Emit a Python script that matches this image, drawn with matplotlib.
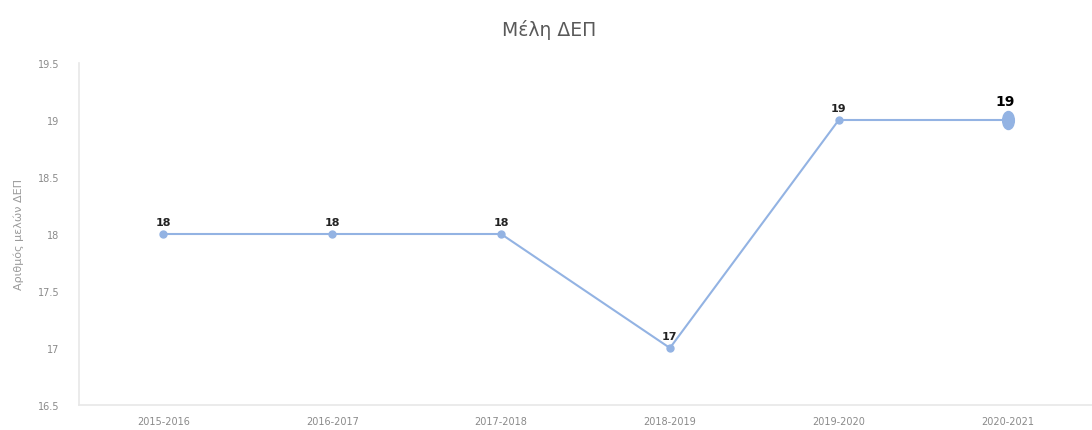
import matplotlib
matplotlib.use("Agg")
import matplotlib.pyplot as plt
from matplotlib.markers import MarkerStyle
from matplotlib.transforms import Affine2D

categories = ["2015-2016", "2016-2017", "2017-2018", "2018-2019", "2019-2020", "2020-2021"]
values = [18, 18, 18, 17, 19, 19]
labels = ["18", "18", "18", "17", "19", "19"]
yticks = [16.5, 17, 17.5, 18, 18.5, 19, 19.5]

plt.rcParams['font.family'] = ['DejaVu Sans']
fig = plt.figure(figsize=(10.92, 4.31), dpi=100)
ax = fig.add_axes([79/1092, 1 - 406/431, (1092 - 79)/1092, (406 - 64)/431])

x = list(range(len(categories)))
color = "#93b3e3"
ax.plot(x, values, color=color, lw=1.5, marker="o", markersize=5, zorder=3)
ell = MarkerStyle("o", transform=Affine2D().scale(0.65, 1.0))
ax.plot([x[-1]], [values[-1]], marker=ell, markersize=13, color=color, zorder=4,
        linestyle="none")

for i, (xi, v, t) in enumerate(zip(x, values, labels)):
    if i == len(x) - 1:
        ax.annotate(t, (xi, v), xytext=(-2, 9), textcoords="offset points",
                    ha="center", va="bottom", fontsize=10, fontweight="bold", color="black")
    else:
        ax.annotate(t, (xi, v), xytext=(0, 5), textcoords="offset points",
                    ha="center", va="bottom", fontsize=8, fontweight="bold", color="#222222")

ax.set_xlim(-0.5, len(categories) - 0.5)
ax.set_ylim(16.5, 19.5)
ax.set_yticks(yticks)
ax.set_yticklabels([("%g" % t) for t in yticks])
ax.set_xticks(x)
ax.set_xticklabels(categories)
ax.tick_params(axis="both", length=0, labelsize=7, colors="#8a8a8a")
ax.tick_params(axis="y", pad=14)
ax.tick_params(axis="x", pad=8)

for s in ["top", "right"]:
    ax.spines[s].set_visible(False)
for s in ["left", "bottom"]:
    ax.spines[s].set_color("#e8e8e8")
    ax.spines[s].set_linewidth(1.2)

ax.set_ylabel("Αριθμός μελών ΔΕΠ", fontsize=8, color="#9a9a9a", labelpad=10)
fig.text(549/1092, 1 - 30/431, "Μέλη ΔΕΠ", ha="center", va="center", fontsize=13.5, color="#595959")

fig.savefig("out.png", dpi=100)
